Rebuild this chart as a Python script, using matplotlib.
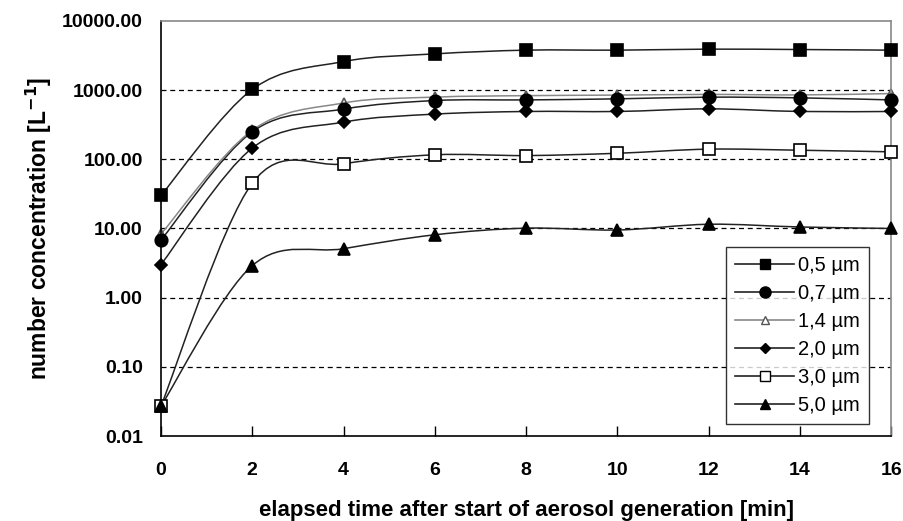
import numpy as np
import matplotlib
matplotlib.use("Agg")
from matplotlib import pyplot as plt
from matplotlib.path import Path
from matplotlib.patches import PathPatch
from matplotlib.lines import Line2D

plt.rcParams['font.family'] = ['Liberation Sans', 'DejaVu Sans']

t = [0, 2, 4, 6, 8, 10, 12, 14, 16]
labels = ["0,5 µm", "0,7 µm", "1,4 µm", "2,0 µm", "3,0 µm", "5,0 µm"]
c05 = [30, 1020, 2580, 3330, 3770, 3770, 3900, 3850, 3770]
c07 = [6.8, 249, 530, 705, 720, 746, 789, 771, 720]
c14 = [8.3, 262, 650, 790, 830, 845, 865, 850, 890]
c20 = [3.0, 145, 344, 449, 490, 490, 535, 490, 490]
c30 = [0.027, 45, 86, 116, 113, 122, 140, 135, 128]
c50 = [0.027, 2.9, 5.1, 8.1, 10.1, 9.5, 11.5, 10.5, 10.0]
yticks = [0.01, 0.1, 1, 10, 100, 1000, 10000]

series = [c05, c07, c14, c20, c30, c50]
styles = [
    dict(marker='s', mfc='black', ms=8, color='#222222', z=3),
    dict(marker='o', mfc='black', ms=9, color='#222222', z=3),
    dict(marker='^', mfc='white', ms=7, color='#888888', z=2.5),
    dict(marker='D', mfc='black', ms=6, color='#222222', z=3),
    dict(marker='s', mfc='white', ms=8, color='#222222', z=3),
    dict(marker='^', mfc='black', ms=8, color='#222222', z=3),
]


def smooth_path(x, y):
    # excel-like smoothed line: catmull-rom as bezier in (x, log y)
    x = np.asarray(x, float)
    ly = np.log10(np.asarray(y, float))
    n = len(x)
    verts = [(x[0], y[0])]
    codes = [Path.MOVETO]
    for i in range(n - 1):
        i0 = max(i - 1, 0)
        i3 = min(i + 2, n - 1)
        c1x = x[i] + (x[i + 1] - x[i0]) / 6
        c1y = ly[i] + (ly[i + 1] - ly[i0]) / 6
        c2x = x[i + 1] - (x[i3] - x[i]) / 6
        c2y = ly[i + 1] - (ly[i3] - ly[i]) / 6
        verts += [(c1x, 10 ** c1y), (c2x, 10 ** c2y), (x[i + 1], y[i + 1])]
        codes += [Path.CURVE4] * 3
    return Path(verts, codes)


fig = plt.figure(figsize=(9.04, 5.21), dpi=100)
ax = fig.add_axes([0.178, 0.163, 0.808, 0.797])
ax.set_yscale('log')
ax.set_xlim(0, 16)
ax.set_ylim(0.01, 10000)

for yv in yticks[1:-1]:
    ax.axhline(yv, color='black', lw=0.9, ls=(0, (4, 3)), zorder=1)

handles = []
for vals, st, lab in zip(series, styles, labels):
    ec = 'black' if st['color'] != '#888888' else '#555555'
    ax.add_patch(PathPatch(smooth_path(t, vals), fill=False, edgecolor=st['color'], lw=1.1, zorder=2))
    ax.plot(t, vals, ls='none', marker=st['marker'], ms=st['ms'], mfc=st['mfc'],
            mec=ec, mew=1.2, zorder=st['z'], clip_on=False)
    handles.append(Line2D([], [], color=st['color'], lw=1.2, marker=st['marker'], ms=st['ms'] - 1,
                          mfc=st['mfc'], mec=ec, mew=1.0))

ax.set_xticks(t)
ax.set_yticks(yticks)
ax.set_yticklabels(["%.2f" % v for v in yticks])
ax.yaxis.set_minor_locator(matplotlib.ticker.NullLocator())
ax.tick_params(axis='x', direction='in', length=7, width=1, pad=19, labelsize=14)
ax.tick_params(axis='y', length=0, pad=13, labelsize=14)
for lab in ax.get_xticklabels() + ax.get_yticklabels():
    lab.set_fontweight('bold')

ax.spines['left'].set_color('black')
ax.spines['bottom'].set_color('black')
ax.spines['top'].set_color('#888888')
ax.spines['right'].set_color('#888888')
for s in ax.spines.values():
    s.set_linewidth(1.2)

ax.set_xlabel("elapsed time after start of aerosol generation [min]", fontsize=16,
              fontweight='bold', labelpad=15)
ax.set_ylabel("number concentration [L$^{\\mathbf{-1}}$]", fontsize=16.5, fontweight='bold', labelpad=6)

leg = ax.legend(handles, labels, loc='lower right', bbox_to_anchor=(0.969, 0.028), fontsize=14.5,
                frameon=True, fancybox=False, edgecolor='black', handlelength=2.9,
                handletextpad=0.2, labelspacing=0.45, borderpad=0.45, borderaxespad=0)
leg.get_frame().set_linewidth(1.0)

fig.savefig("out.png", dpi=100)
